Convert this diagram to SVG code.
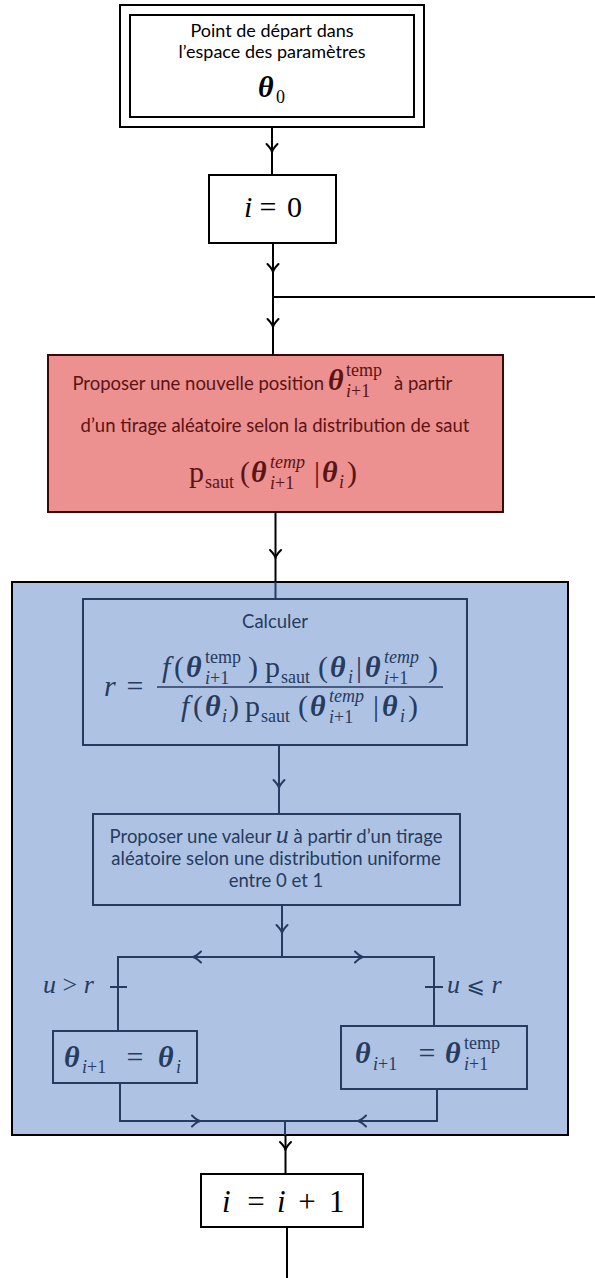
<svg xmlns="http://www.w3.org/2000/svg" xmlns:xlink="http://www.w3.org/1999/xlink" width="595" height="1278" viewBox="0 0 595 1278">
<style>
.t{font-family:Lato,"Open Sans",sans-serif;font-size:18.5px}
.m{font-family:"Liberation Serif","DejaVu Serif",serif;font-size:30px}
.s{font-family:"Liberation Serif","DejaVu Serif",serif;font-size:18px}
.i{font-style:italic}
.b{font-weight:bold;font-style:italic}
.k{fill:#000}
.rd{fill:#5b1414}
.nv{fill:#263b60}
.box{fill:#fff;stroke:#000;stroke-width:2}
.ln{fill:none;stroke:#000;stroke-width:2}
.lnv{fill:none;stroke:#263b60;stroke-width:2}
.ahk{fill:none;stroke:#000;stroke-width:2;stroke-linecap:round;stroke-linejoin:round}
.ahn{fill:none;stroke:#263b60;stroke-width:2;stroke-linecap:round;stroke-linejoin:round}
</style>
<defs>
<path id="ah" d="M-5.5,-8 Q-1,-3.5 0,0 Q1,-3.5 5.5,-8"/>
</defs>

<g id="blue-area">
<rect x="12" y="582" width="556" height="553" fill="#aec3e3" stroke="#000" stroke-width="2"/>
</g>

<g id="start">
<rect class="box" x="120" y="5" width="304" height="122"/>
<rect class="box" x="130" y="15" width="284" height="102"/>
<text class="t k" x="272" y="37" text-anchor="middle" style="font-size:18px">Point de départ dans</text>
<text class="t k" x="272" y="58" text-anchor="middle" style="font-size:18px">l’espace des paramètres</text>
<text class="m b k" x="258" y="97">θ</text>
<text class="s k" x="276" y="103">0</text>
</g>

<g id="init">
<rect class="box" x="209" y="175" width="127" height="68"/>
<text class="m i k" x="244" y="217">i</text>
<text class="m k" x="268" y="217" text-anchor="middle">=</text>
<text class="m k" x="287" y="217">0</text>
</g>

<g id="propose">
<rect x="48" y="355" width="455" height="157" fill="#ec9090" stroke="#3a0808" stroke-width="2"/>
<text class="t rd" x="324" y="390" text-anchor="end">Proposer une nouvelle position</text>
<text class="m b rd" x="328" y="390">θ</text>
<text class="s rd" x="346" y="376">temp</text>
<text class="s rd" x="346" y="397"><tspan class="i">i</tspan>+1</text>
<text class="t rd" x="394" y="390">à partir</text>
<text class="t rd" x="275" y="432" text-anchor="middle">d’un tirage aléatoire selon la distribution de saut</text>
<text class="m rd" x="189" y="482">p</text>
<text class="s rd" x="205" y="488">saut</text>
<text class="m rd" x="240" y="482">(</text>
<text class="m b rd" x="251" y="482">θ</text>
<text class="s i rd" x="270" y="468">temp</text>
<text class="s rd" x="270" y="489"><tspan class="i">i</tspan>+1</text>
<text class="m rd" x="314" y="482">|</text>
<text class="m b rd" x="322" y="482">θ</text>
<text class="s i rd" x="339" y="488">i</text>
<text class="m rd" x="347" y="482">)</text>
</g>

<g id="compute">
<rect x="83" y="599" width="384" height="146" fill="none" stroke="#263b60" stroke-width="2"/>
<text class="t nv" x="275" y="628" text-anchor="middle">Calculer</text>
<text class="m i nv" x="104" y="696">r</text>
<text class="m nv" x="135" y="696" text-anchor="middle">=</text>
<line x1="157" y1="687" x2="443" y2="687" stroke="#263b60" stroke-width="1.3"/>
<text class="m i nv" x="162" y="677">f</text>
<text class="m nv" x="174" y="677">(</text>
<text class="m b nv" x="186" y="677">θ</text>
<text class="s nv" x="205" y="663">temp</text>
<text class="s nv" x="205" y="684"><tspan class="i">i</tspan>+1</text>
<text class="m nv" x="248" y="677">)</text>
<text class="m nv" x="265" y="677">p</text>
<text class="s nv" x="281" y="683">saut</text>
<text class="m nv" x="318" y="677">(</text>
<text class="m b nv" x="330" y="677">θ</text>
<text class="s i nv" x="348" y="683">i</text>
<text class="m nv" x="356" y="677">|</text>
<text class="m b nv" x="365" y="677">θ</text>
<text class="s i nv" x="384" y="663">temp</text>
<text class="s nv" x="384" y="684"><tspan class="i">i</tspan>+1</text>
<text class="m nv" x="428" y="677">)</text>
<text class="m i nv" x="181" y="716">f</text>
<text class="m nv" x="193" y="716">(</text>
<text class="m b nv" x="205" y="716">θ</text>
<text class="s i nv" x="222" y="722">i</text>
<text class="m nv" x="229" y="716">)</text>
<text class="m nv" x="245" y="716">p</text>
<text class="s nv" x="261" y="722">saut</text>
<text class="m nv" x="298" y="716">(</text>
<text class="m b nv" x="310" y="716">θ</text>
<text class="s i nv" x="329" y="702">temp</text>
<text class="s nv" x="329" y="723"><tspan class="i">i</tspan>+1</text>
<text class="m nv" x="373" y="716">|</text>
<text class="m b nv" x="382" y="716">θ</text>
<text class="s i nv" x="400" y="722">i</text>
<text class="m nv" x="408" y="716">)</text>
</g>

<g id="draw-u">
<rect x="93" y="814" width="367" height="91" fill="none" stroke="#263b60" stroke-width="2"/>
<text class="t nv" x="276" y="843" text-anchor="middle">Proposer une valeur <tspan class="m i" style="font-size:26px">u</tspan> à partir d’un tirage</text>
<text class="t nv" x="276" y="865" text-anchor="middle">aléatoire selon une distribution uniforme</text>
<text class="t nv" x="276" y="887" text-anchor="middle">entre 0 et 1</text>
</g>

<g id="reject">
<rect x="53" y="1031" width="144" height="52" fill="none" stroke="#263b60" stroke-width="2"/>
<text class="m b nv" x="64" y="1067">θ</text>
<text class="s nv" x="82" y="1073"><tspan class="i">i</tspan>+1</text>
<text class="m nv" x="135" y="1067" text-anchor="middle">=</text>
<text class="m b nv" x="158" y="1067">θ</text>
<text class="s i nv" x="176" y="1073">i</text>
</g>

<g id="accept">
<rect x="341" y="1026" width="186" height="63" fill="none" stroke="#263b60" stroke-width="2"/>
<text class="m b nv" x="355" y="1063">θ</text>
<text class="s nv" x="373" y="1070"><tspan class="i">i</tspan>+1</text>
<text class="m nv" x="427" y="1063" text-anchor="middle">=</text>
<text class="m b nv" x="445" y="1063">θ</text>
<text class="s nv" x="464" y="1049">temp</text>
<text class="s nv" x="464" y="1070"><tspan class="i">i</tspan>+1</text>
</g>

<g id="increment">
<rect class="box" x="201" y="1174" width="162" height="53"/>
<text class="m i k" x="222" y="1212" style="font-size:31px">i</text>
<text class="m k" x="256" y="1212" text-anchor="middle" style="font-size:31px">=</text>
<text class="m i k" x="277" y="1212" style="font-size:31px">i</text>
<text class="m k" x="307" y="1212" text-anchor="middle" style="font-size:31px">+</text>
<text class="m k" x="329" y="1212" style="font-size:31px">1</text>
</g>

<g id="labels">
<text class="nv" x="43" y="993" style="font-family:'Liberation Serif','DejaVu Serif',serif;font-size:26px"><tspan class="i">u</tspan> &gt; <tspan class="i">r</tspan></text>
<text class="nv" x="447" y="993" style="font-family:'Liberation Serif','DejaVu Serif',serif;font-size:26px"><tspan class="i">u</tspan> <tspan style="font-family:'DejaVu Serif','DejaVu Sans',serif;font-size:22px">⩽</tspan> <tspan class="i">r</tspan></text>
</g>

<g id="connectors">
<path class="ln" d="M272,127V175"/>
<path class="ln" d="M273,243V355M273,297H595"/>
<path class="ln" d="M275.5,512V582"/>
<path class="lnv" d="M275.5,582V599"/>
<path class="lnv" d="M279,745V814"/>
<path class="lnv" d="M282,905V957M118,1031V957H434V1026M110,987H127M425,987H443"/>
<path class="lnv" d="M120,1083V1121H437V1089M285,1121V1135"/>
<path class="ln" d="M285.5,1135V1174M287,1227V1278"/>
<use xlink:href="#ah" class="ahk" transform="translate(272,152)"/>
<use xlink:href="#ah" class="ahk" transform="translate(273,272)"/>
<use xlink:href="#ah" class="ahk" transform="translate(273,327)"/>
<use xlink:href="#ah" class="ahk" transform="translate(275.5,558)"/>
<use xlink:href="#ah" class="ahn" transform="translate(279,788)"/>
<use xlink:href="#ah" class="ahn" transform="translate(282,933)"/>
<use xlink:href="#ah" class="ahn" transform="translate(193,957) rotate(90)"/>
<use xlink:href="#ah" class="ahn" transform="translate(363,957) rotate(-90)"/>
<use xlink:href="#ah" class="ahn" transform="translate(200,1121) rotate(-90)"/>
<use xlink:href="#ah" class="ahn" transform="translate(358,1121) rotate(90)"/>
<use xlink:href="#ah" class="ahk" transform="translate(285.5,1150)"/>
</g>
</svg>
